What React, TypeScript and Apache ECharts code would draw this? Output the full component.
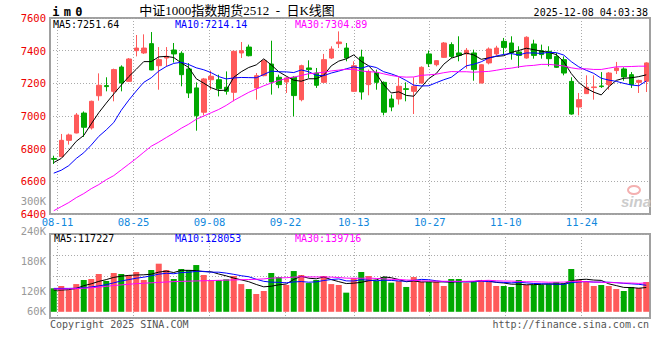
import React, { useEffect, useRef } from 'react';
import * as echarts from 'echarts';

const dates = [
  '08-08', '08-11', '08-12', '08-13', '08-14', '08-15', '08-18', '08-19', '08-20', '08-21',
  '08-22', '08-25', '08-26', '08-27', '08-28', '08-29', '09-01', '09-02', '09-03', '09-04',
  '09-05', '09-08', '09-09', '09-10', '09-11', '09-12', '09-15', '09-16', '09-17', '09-18',
  '09-19', '09-22', '09-23', '09-24', '09-25', '09-26', '09-29', '09-30', '10-09', '10-10',
  '10-13', '10-14', '10-15', '10-16', '10-17', '10-20', '10-21', '10-22', '10-23', '10-24',
  '10-27', '10-28', '10-29', '10-30', '10-31', '11-03', '11-04', '11-05', '11-06', '11-07',
  '11-10', '11-11', '11-12', '11-13', '11-14', '11-17', '11-18', '11-19', '11-20', '11-21',
  '11-24', '11-25', '11-26', '11-27', '11-28', '12-01', '12-02', '12-03', '12-04', '12-05',
];

const labelDates = ['08-11', '08-25', '09-08', '09-22', '10-13', '10-27', '11-10', '11-24'];

const opens = [
  6740, 6751, 6851, 6896, 7018, 6927, 7124, 7186, 7151, 7300,
  7212, 7400, 7386, 7443, 7308, 7355, 7404, 7384, 7288, 7172,
  7023, 7222, 7222, 7176, 7145, 7386, 7422, 7172, 7247, 7318,
  7237, 7208, 7237, 7100, 7294, 7263, 7206, 7355, 7443, 7416,
  7151, 7361, 7192, 7263, 7206, 7104, 7104, 7167, 7151, 7202,
  7380, 7314, 7359, 7437, 7386, 7380, 7386, 7202, 7325, 7380,
  7457, 7447, 7392, 7355, 7441, 7400, 7396, 7365, 7345, 7212,
  7055, 7137, 7174, 7184, 7192, 7278, 7288, 7253, 7206, 7212,
];
const closes = [
  6735, 6851, 6884, 7006, 6931, 7090, 7188, 7180, 7284, 7202,
  7349, 7416, 7416, 7282, 7345, 7365, 7380, 7253, 7141, 7002,
  7227, 7243, 7167, 7151, 7396, 7400, 7369, 7247, 7339, 7208,
  7192, 7233, 7125, 7308, 7284, 7188, 7345, 7410, 7453, 7355,
  7308, 7147, 7273, 7206, 7023, 7055, 7182, 7163, 7182, 7298,
  7320, 7339, 7447, 7365, 7371, 7402, 7284, 7314, 7410, 7416,
  7420, 7386, 7371, 7482, 7371, 7376, 7351, 7298, 7263, 7012,
  7100, 7176, 7178, 7180, 7263, 7294, 7239, 7192, 7218, 7325,
];
const highs = [
  6757, 6890, 6892, 7018, 7028, 7094, 7261, 7237, 7290, 7310,
  7355, 7496, 7500, 7514, 7422, 7422, 7447, 7396, 7324, 7206,
  7233, 7278, 7253, 7273, 7400, 7453, 7437, 7263, 7345, 7461,
  7253, 7237, 7243, 7314, 7341, 7294, 7380, 7427, 7518, 7447,
  7335, 7406, 7284, 7284, 7212, 7131, 7237, 7206, 7237, 7304,
  7400, 7341, 7453, 7451, 7488, 7416, 7406, 7318, 7420, 7430,
  7478, 7488, 7427, 7488, 7467, 7437, 7427, 7386, 7365, 7237,
  7141, 7249, 7249, 7269, 7269, 7331, 7298, 7269, 7222, 7329,
];
const lows = [
  6706, 6748, 6825, 6894, 6872, 6917, 7094, 7151, 7090, 7151,
  7212, 7365, 7380, 7280, 7161, 7304, 7327, 7182, 7110, 6910,
  7004, 7161, 7120, 7131, 7090, 7355, 7365, 7100, 7243, 7131,
  7170, 7141, 6998, 7090, 7233, 7172, 7202, 7349, 7416, 7335,
  7147, 7100, 7127, 7161, 7004, 7029, 7070, 7090, 7012, 7198,
  7300, 7304, 7355, 7355, 7335, 7290, 7216, 7200, 7316, 7370,
  7376, 7345, 7294, 7351, 7351, 7351, 7304, 7294, 7249, 7008,
  7004, 7135, 7100, 7172, 7161, 7257, 7216, 7172, 7141, 7147,
];

const ma5 = [
  6715, 6740, 6790, 6845, 6881, 6952, 7020, 7079, 7135, 7189,
  7241, 7286, 7333, 7333, 7362, 7365, 7358, 7325, 7297, 7228,
  7201, 7173, 7156, 7158, 7237, 7271, 7297, 7313, 7350, 7313,
  7271, 7244, 7219, 7213, 7228, 7228, 7250, 7307, 7336, 7350,
  7374, 7335, 7307, 7258, 7191, 7141, 7148, 7126, 7121, 7176,
  7229, 7260, 7317, 7354, 7368, 7385, 7374, 7347, 7356, 7365,
  7369, 7389, 7401, 7415, 7406, 7397, 7390, 7376, 7332, 7260,
  7205, 7170, 7146, 7129, 7179, 7218, 7231, 7234, 7241, 7252,
];
const ma10 = [
  6650, 6668, 6696, 6740, 6775, 6822, 6875, 6915, 6960, 7035,
  7097, 7153, 7206, 7234, 7275, 7303, 7322, 7329, 7315, 7295,
  7283, 7265, 7241, 7227, 7233, 7236, 7235, 7234, 7254, 7275,
  7271, 7270, 7266, 7282, 7271, 7249, 7247, 7263, 7275, 7289,
  7301, 7292, 7307, 7297, 7271, 7258, 7241, 7217, 7189, 7184,
  7185, 7204, 7222, 7237, 7272, 7307, 7317, 7332, 7355, 7367,
  7377, 7382, 7374, 7386, 7386, 7383, 7390, 7388, 7373, 7333,
  7301, 7280, 7261, 7231, 7220, 7212, 7200, 7190, 7185, 7214,
];
const ma30 = [
  6420, 6445, 6470, 6500, 6525, 6555, 6580, 6610, 6635, 6670,
  6705, 6740, 6778, 6815, 6840, 6868, 6895, 6925, 6950, 6980,
  7000, 7020, 7040, 7065, 7095, 7120, 7145, 7165, 7185, 7202,
  7217, 7230, 7238, 7248, 7259, 7263, 7268, 7276, 7281, 7286,
  7285, 7276, 7271, 7269, 7258, 7248, 7241, 7238, 7239, 7249,
  7252, 7256, 7265, 7272, 7271, 7271, 7268, 7271, 7273, 7280,
  7288, 7293, 7301, 7307, 7310, 7316, 7316, 7312, 7306, 7295,
  7288, 7289, 7285, 7285, 7293, 7301, 7302, 7303, 7305, 7305,
];

// volume in thousands of lots
const volumesK = [
  113.6, 124.7, 105.0, 134.0, 153.7, 158.5, 182.7, 148.9, 187.5, 182.7,
  177.8, 192.4, 153.7, 202.0, 232.5, 202.0, 158.5, 206.9, 202.0, 226.0,
  177.8, 153.7, 153.7, 157.0, 173.0, 134.0, 110.0, 86.0, 100.5, 187.5,
  168.0, 129.5, 197.0, 177.8, 139.0, 153.7, 173.0, 134.0, 129.5, 92.5,
  163.0, 192.4, 173.0, 148.9, 168.0, 140.8, 148.9, 120.0, 168.0, 144.0,
  144.0, 144.0, 124.7, 158.5, 158.5, 139.0, 148.9, 153.7, 144.0, 124.7,
  124.7, 120.0, 153.7, 129.5, 129.5, 129.5, 134.0, 144.0, 137.7, 206.9,
  153.7, 144.0, 124.7, 129.5, 124.7, 110.0, 100.5, 120.0, 115.0, 144.0,
];
const volMa5K = [
  105, 105, 107, 113, 126.2, 135.2, 146.8, 155.6, 166.3, 172.1,
  175.9, 177.9, 178.8, 181.7, 191.7, 196.5, 189.7, 200.4, 200.4, 199.1,
  194.2, 193.3, 182.6, 173.6, 163.0, 154.3, 145.5, 132.0, 120.7, 123.6,
  130.4, 134.3, 156.5, 172.0, 162.3, 159.4, 168.1, 155.5, 145.8, 136.5,
  138.4, 142.3, 150.1, 154.0, 169.1, 164.6, 155.9, 145.3, 149.1, 144.3,
  145.0, 144.0, 144.9, 143.0, 145.9, 144.9, 145.9, 151.7, 148.8, 142.1,
  139.2, 133.4, 133.4, 130.5, 131.5, 132.4, 135.2, 133.3, 134.9, 150.4,
  155.3, 157.3, 153.4, 151.8, 135.3, 126.6, 117.9, 116.9, 114.0, 117.2,
];
const volMa10K = [
  113, 113, 113, 114, 116, 120, 125, 131, 140, 149.1,
  155.6, 162.3, 167.2, 174.0, 181.9, 186.2, 183.8, 189.6, 191.1, 195.4,
  195.4, 191.5, 191.5, 187.0, 181.1, 174.3, 169.4, 157.3, 147.2, 143.3,
  142.3, 139.9, 144.3, 146.3, 142.9, 144.9, 151.2, 156.0, 158.9, 149.4,
  148.9, 155.2, 152.8, 149.9, 152.8, 151.5, 149.1, 147.7, 151.6, 156.7,
  154.8, 150.0, 145.1, 146.1, 145.1, 145.0, 145.0, 148.3, 145.9, 144.0,
  142.1, 139.7, 142.6, 139.7, 136.8, 135.8, 134.3, 133.4, 132.7, 141.0,
  143.9, 146.3, 143.4, 143.4, 142.9, 140.9, 137.6, 135.2, 132.9, 128.1,
];
const volMa30K = [
  110, 110, 111, 112, 114, 116, 119, 123, 127, 130,
  133, 136, 138, 140, 142, 144, 146, 147, 148, 149,
  150, 151, 152, 153, 154, 155, 156, 157, 159, 162.6,
  164.4, 164.6, 167.7, 169.1, 168.6, 168.5, 168.1, 167.6, 165.7, 162.7,
  162.2, 162.2, 162.9, 161.1, 158.9, 156.9, 156.6, 153.7, 152.5, 149.8,
  148.7, 148.4, 147.4, 147.4, 147.0, 147.1, 148.4, 150.7, 152.1, 150.0,
  148.6, 148.3, 146.8, 145.2, 144.9, 144.1, 142.8, 143.1, 143.4, 147.2,
  146.9, 145.3, 143.7, 143.0, 141.6, 140.6, 139.0, 139.0, 137.2, 139.7,
];

const priceTicks = { min: 6400, max: 7600, step: 200 };
const volTicksK = { min: 60, max: 300, step: 60 };

const legendMain = ['MA5:7251.64', 'MA10:7214.14', 'MA30:7304.89'];
const legendVol = ['MA5:117227', 'MA10:128053', 'MA30:139716'];

const RED = '#ff5a5a';
const GREEN = '#00a800';
const MONO = 'DejaVu Sans Mono';
const GRIDLINE = { color: '#aaaaaa', type: [1, 2] as any, width: 1 };

export default function App() {
  const ref = useRef<HTMLDivElement>(null);
  useEffect(() => {
    if (!ref.current) return;
    const chart = echarts.init(ref.current, null, { renderer: 'svg' });
    const labelSet = new Set(labelDates);
    const showAt = (_i: number, v: string) => labelSet.has(v);
    const lineS = (name: string, data: number[], color: string, xi: number, yi: number) => ({
      name,
      type: 'line',
      xAxisIndex: xi,
      yAxisIndex: yi,
      data,
      symbol: 'none',
      silent: true,
      z: 4,
      lineStyle: { color, width: 1 },
    });
    const legendColors = ['#000000', '#0000ff', '#ff00ff'];
    const legendX = [53, 175, 295];
    const option: any = {
      animation: false,
      backgroundColor: '#ffffff',
      grid: [
        { left: 50, top: 18, width: 600, height: 196, show: true, borderColor: '#a0a0a0', borderWidth: 2 },
        { left: 50, top: 234, width: 600, height: 84, show: true, borderColor: '#a0a0a0', borderWidth: 2 },
        { left: 50, top: 201, width: 600, height: 120, show: false },
      ],
      xAxis: [
        { type: 'category', gridIndex: 0, data: dates, boundaryGap: true, show: false, position: 'top' },
        {
          type: 'category', gridIndex: 0, data: dates, boundaryGap: false, position: 'bottom',
          axisLine: { show: false }, axisTick: { show: false },
          axisLabel: { interval: showAt, color: '#1188dd', fontFamily: MONO, fontSize: 10.5, margin: 2 },
          splitLine: { show: true, interval: showAt, lineStyle: GRIDLINE },
        },
        { type: 'category', gridIndex: 1, data: dates, boundaryGap: true, show: false, position: 'top' },
        {
          type: 'category', gridIndex: 1, data: dates, boundaryGap: false, position: 'bottom',
          axisLine: { show: false }, axisTick: { show: false }, axisLabel: { show: false },
          splitLine: { show: true, interval: showAt, lineStyle: GRIDLINE },
        },
        { type: 'value', gridIndex: 2, show: false, min: 0, max: 1 },
      ],
      yAxis: [
        {
          type: 'value', gridIndex: 0, min: priceTicks.min, max: priceTicks.max, interval: priceTicks.step,
          axisLine: { show: false }, axisTick: { show: false },
          axisLabel: {
            color: '#ee0000', fontFamily: MONO, fontSize: 10.5, margin: 4, padding: [0, 0, 4, 0],
            formatter: (v: number) => String(v),
          },
          splitLine: { show: true, lineStyle: GRIDLINE },
        },
        { type: 'value', gridIndex: 1, min: -30, max: 376, show: false },
        {
          type: 'value', gridIndex: 1, min: 0, max: 4, interval: 1, position: 'right',
          axisLine: { show: false }, axisTick: { show: false }, axisLabel: { show: false },
          splitLine: { show: true, lineStyle: GRIDLINE },
        },
        {
          type: 'value', gridIndex: 2, min: volTicksK.min, max: volTicksK.max, interval: volTicksK.step,
          axisLine: { show: false }, axisTick: { show: false }, splitLine: { show: false },
          axisLabel: {
            color: '#999999', fontFamily: MONO, fontSize: 10.5, margin: 4, lineHeight: 20,
            formatter: (v: number) => (v === volTicksK.min ? v + 'K\n ' : v + 'K'),
          },
        },
      ],
      series: [
        {
          type: 'candlestick', xAxisIndex: 0, yAxisIndex: 0, barWidth: 5, silent: true,
          data: opens.map((o, i) => [o, closes[i], lows[i], highs[i]]),
          itemStyle: { color: RED, color0: GREEN, borderColor: RED, borderColor0: GREEN, borderWidth: 1 },
        },
        lineS('MA5', ma5, '#000000', 0, 0),
        lineS('MA10', ma10, '#0000ff', 0, 0),
        lineS('MA30', ma30, '#ff00ff', 0, 0),
        {
          type: 'bar', xAxisIndex: 2, yAxisIndex: 1, barWidth: 6, silent: true,
          data: volumesK.map((v, i) => ({ value: v, itemStyle: { color: closes[i] >= opens[i] ? RED : GREEN } })),
        },
        lineS('VMA5', volMa5K, '#000000', 2, 1),
        lineS('VMA10', volMa10K, '#0000ff', 2, 1),
        lineS('VMA30', volMa30K, '#ff00ff', 2, 1),
      ],
      graphic: [
        {
          type: 'text', x: 50, y: 12, silent: true,
          style: {
            text: '{a|i}{a|m}{a|0}', verticalAlign: 'middle', textVerticalAlign: 'middle',
            rich: { a: { width: 11.5, align: 'center', fontFamily: MONO, fontWeight: 'bold', fontSize: 12, fill: '#000', color: '#000' } },
          },
        },
        {
          type: 'text', x: 237, y: 10, silent: true,
          style: {
            text: '中证1000指数期货2512  -  日K线图', fill: '#000',
            font: '13px "Liberation Serif", "Noto Sans CJK SC"',
            align: 'center', textAlign: 'center', verticalAlign: 'middle', textVerticalAlign: 'middle',
          },
        },
        {
          type: 'text', x: 648, y: 12, silent: true,
          style: {
            text: '2025-12-08 04:03:38', fill: '#000', font: `10px "${MONO}"`,
            align: 'right', textAlign: 'right', verticalAlign: 'middle', textVerticalAlign: 'middle',
          },
        },
        ...legendMain.map((t, i) => ({
          type: 'text', x: legendX[i], y: 24, silent: true, z: 10,
          style: { text: t, fill: legendColors[i], font: `10px "${MONO}"`, verticalAlign: 'middle', textVerticalAlign: 'middle' },
        })),
        ...legendVol.map((t, i) => ({
          type: 'text', x: legendX[i] + (i === 0 ? 1 : 0), y: 238.5, silent: true, z: 10,
          style: { text: t, fill: legendColors[i], font: `10px "${MONO}"`, verticalAlign: 'middle', textVerticalAlign: 'middle' },
        })),
        {
          type: 'text', x: 50, y: 324, silent: true,
          style: { text: 'Copyright 2025 SINA.COM', fill: '#555', font: `10px "${MONO}"`, verticalAlign: 'middle', textVerticalAlign: 'middle' },
        },
        {
          type: 'text', x: 649, y: 324, silent: true,
          style: {
            text: 'http://finance.sina.com.cn', fill: '#555', font: `10px "${MONO}"`,
            align: 'right', textAlign: 'right', verticalAlign: 'middle', textVerticalAlign: 'middle',
          },
        },
        {
          type: 'ellipse', silent: true, z: 1,
          shape: { cx: 634, cy: 190, rx: 6, ry: 4 },
          style: { fill: 'none', stroke: '#f4b0b0', lineWidth: 2 },
        },
        {
          type: 'text', x: 636, y: 201, silent: true, z: 1,
          style: {
            text: 'sina', fill: '#cccccc', font: 'italic bold 15px "Liberation Sans"',
            align: 'center', textAlign: 'center', verticalAlign: 'middle', textVerticalAlign: 'middle',
          },
        },
      ],
    };
    chart.setOption(option);
    return () => chart.dispose();
  }, []);
  return <div ref={ref} style={{ position: 'fixed', left: 0, top: 0, width: 660, height: 360 }} />;
}
